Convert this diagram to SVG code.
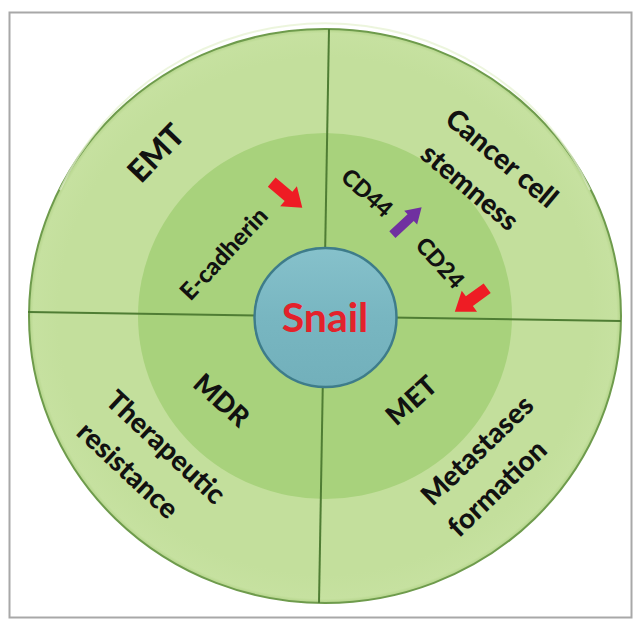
<svg xmlns="http://www.w3.org/2000/svg" width="640" height="624" viewBox="0 0 640 624">
  <defs>
    <style>
      .lbl { font-family: Lato, "Liberation Sans", Arial, sans-serif; font-weight: 900; fill: #111; text-anchor: middle; }
      .big { font-size: 28px; }
      .emt { font-size: 31px; }
      .mid { font-size: 27px; }
      .sm { font-size: 23px; }
      .ecad { font-size: 24px; }
      .div { stroke: #4f7d34; stroke-width: 2; fill: none; }
    </style>
    <radialGradient id="gOuter" cx="0.5" cy="0.5" r="0.5">
      <stop offset="0.9" stop-color="#c3df9c"/>
      <stop offset="0.985" stop-color="#c6e1a0"/>
      <stop offset="1" stop-color="#b4d48a"/>
    </radialGradient>
    <linearGradient id="gSnail" x1="0" y1="0" x2="0" y2="1">
      <stop offset="0" stop-color="#86c1cb"/>
      <stop offset="0.5" stop-color="#78b6c1"/>
      <stop offset="1" stop-color="#72b0bb"/>
    </linearGradient>
    <path id="arrowR" d="M-20,-6 L2,-6 L2,-13 L20,0 L2,13 L2,6 L-20,6 Z"/>
    <path id="arrowP" d="M-20,-4.5 L5,-4.5 L5,-9.5 L20,0 L5,9.5 L5,4.5 L-20,4.5 Z"/>
  </defs>

  <rect x="0" y="0" width="640" height="624" fill="#ffffff"/>
  <rect id="frame" x="9.5" y="12.5" width="622" height="605" fill="none" stroke="#a8a8a8" stroke-width="2"/>

  <g id="outer-ring">
    <ellipse cx="325" cy="316" rx="296" ry="287" fill="url(#gOuter)" stroke="#6e9b4c" stroke-width="2"/>
    <path d="M60,190 A290,281 0 0 1 590,190" fill="none" stroke="#e4f1cf" stroke-width="2" opacity="0.7"/>
  </g>
  <g id="inner-ring">
    <ellipse cx="325" cy="316" rx="187" ry="183" fill="#a8d27c"/>
  </g>

  <g id="connectors">
    <line class="div" x1="28" y1="312" x2="621" y2="321"/>
    <line class="div" x1="329" y1="29" x2="319" y2="603"/>
  </g>

  <g id="snail">
    <ellipse cx="325.5" cy="317.5" rx="71" ry="69.5" fill="url(#gSnail)" stroke="#3e7c8a" stroke-width="2.5"/>
    <text x="325" y="332" font-family="Lato, 'Liberation Sans', Arial, sans-serif" font-weight="bold" font-size="41" fill="#e3222b" text-anchor="middle">Snail</text>
  </g>

  <g id="emt">
    <text class="lbl emt" transform="translate(156,153) rotate(-46)" y="11">EMT</text>
  </g>
  <g id="e-cadherin">
    <text class="lbl ecad" transform="translate(224,254) rotate(-47)" y="8">E-cadherin</text>
    <use href="#arrowR" transform="translate(287,195) rotate(40)" fill="#ee1c24"/>
  </g>
  <g id="cancer-stemness">
    <text class="lbl big" transform="translate(502,158) rotate(40)" y="10">Cancer cell</text>
    <text class="lbl big" transform="translate(470,187) rotate(40)" y="10">stemness</text>
  </g>
  <g id="cd44">
    <text class="lbl sm" transform="translate(367,193) rotate(42)" y="8">CD44</text>
    <use href="#arrowP" transform="translate(407,221) rotate(-43)" fill="#7030a0"/>
  </g>
  <g id="cd24">
    <text class="lbl sm" transform="translate(440,263) rotate(48)" y="8">CD24</text>
    <use href="#arrowR" transform="translate(471,300) rotate(144)" fill="#ee1c24"/>
  </g>
  <g id="mdr">
    <text class="lbl mid" transform="translate(222,400) rotate(42)" y="10">MDR</text>
  </g>
  <g id="therapeutic-resistance">
    <text class="lbl big" transform="translate(166,447) rotate(43)" y="10">Therapeutic</text>
    <text class="lbl big" transform="translate(128,470) rotate(43)" y="10">resistance</text>
  </g>
  <g id="met">
    <text class="lbl mid" transform="translate(411,400) rotate(-42)" y="10">MET</text>
  </g>
  <g id="metastases-formation">
    <text class="lbl big" transform="translate(477,450) rotate(-44)" y="10">Metastases</text>
    <text class="lbl big" transform="translate(497,488) rotate(-44)" y="10">formation</text>
  </g>
</svg>
